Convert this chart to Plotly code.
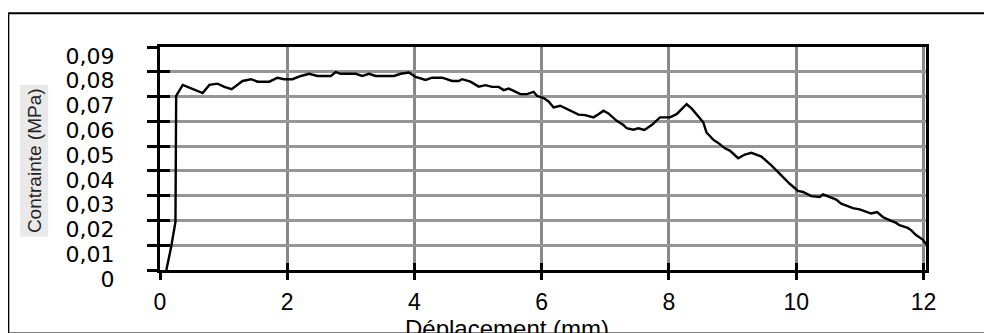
import plotly.graph_objects as go

# Data
deplacement = [0.10, 0.176, 0.243, 0.254, 0.358, 0.671, 0.776, 0.906, 1.011, 1.126,
               1.298, 1.430, 1.534, 1.717, 1.847, 1.952, 2.082, 2.214, 2.344, 2.475,
               2.685, 2.763, 2.841, 3.077, 3.180, 3.285, 3.390, 3.677, 3.782, 3.912,
               4.018, 4.174, 4.278, 4.435, 4.592, 4.697, 4.748, 4.880, 5.010, 5.115,
               5.219, 5.324, 5.402, 5.481, 5.559, 5.664, 5.768, 5.873, 5.924, 6.030,
               6.108, 6.186, 6.291, 6.370, 6.473, 6.578, 6.683, 6.813, 6.892, 6.970,
               7.048, 7.179, 7.284, 7.336, 7.441, 7.519, 7.613, 7.728, 7.859, 8.016,
               8.120, 8.277, 8.355, 8.460, 8.539, 8.590, 8.695, 8.774, 8.879, 8.957,
               9.087, 9.192, 9.296, 9.453, 9.610, 9.766, 9.898, 10.028, 10.107, 10.237,
               10.369, 10.421, 10.499, 10.629, 10.707, 10.812, 10.891, 10.996, 11.099, 11.178,
               11.272, 11.361, 11.466, 11.570, 11.623, 11.753, 11.805, 11.883, 11.988, 12.056]
contrainte = [0.0, 0.0094, 0.0194, 0.0703, 0.0747, 0.0714, 0.0747, 0.0752, 0.0739, 0.0730,
              0.0763, 0.0770, 0.0760, 0.0760, 0.0776, 0.0770, 0.0770, 0.0783, 0.0792, 0.0783,
              0.0783, 0.0799, 0.0792, 0.0792, 0.0783, 0.0792, 0.0783, 0.0783, 0.0792, 0.0797,
              0.0779, 0.0767, 0.0776, 0.0776, 0.0763, 0.0763, 0.0770, 0.0760, 0.0740, 0.0746,
              0.0739, 0.0739, 0.0726, 0.0732, 0.0723, 0.0710, 0.0710, 0.0719, 0.0703, 0.0694,
              0.0680, 0.0656, 0.0663, 0.0653, 0.0643, 0.0627, 0.0625, 0.0616, 0.0629, 0.0643,
              0.0632, 0.0602, 0.0585, 0.0572, 0.0566, 0.0572, 0.0565, 0.0585, 0.0616, 0.0616,
              0.0629, 0.0669, 0.0652, 0.0620, 0.0596, 0.0555, 0.0526, 0.0513, 0.0491, 0.0482,
              0.0451, 0.0466, 0.0473, 0.0458, 0.0422, 0.0382, 0.0348, 0.0319, 0.0315, 0.0298,
              0.0295, 0.0305, 0.0297, 0.0284, 0.0268, 0.0258, 0.0250, 0.0245, 0.0234, 0.0228,
              0.0234, 0.0214, 0.0201, 0.0190, 0.0181, 0.0170, 0.0161, 0.0141, 0.0123, 0.0100]

x_ticks = [0, 2, 4, 6, 8, 10, 12]
x_tick_labels = ["0", "2", "4", "6", "8", "10", "12"]
y_ticks = [0, 0.01, 0.02, 0.03, 0.04, 0.05, 0.06, 0.07, 0.08, 0.09]
y_tick_labels = ["0", "0,01", "0,02", "0,03", "0,04", "0,05", "0,06", "0,07", "0,08", "0,09"]

x_title = "Déplacement (mm)"
y_title = "Contrainte (MPa)"

XR = [0, 12.04]
YR = [0, 0.09]

fig = go.Figure()
fig.add_trace(go.Scatter(x=deplacement, y=contrainte, mode="lines",
                         line=dict(color="black", width=2.4), showlegend=False,
                         hoverinfo="skip"))
# empty trace to create the overlay axes (inside ticks)
fig.add_trace(go.Scatter(x=[None], y=[None], xaxis="x2", yaxis="y2",
                         showlegend=False, hoverinfo="skip"))

fig.update_layout(
    width=992, height=333,
    margin=dict(l=152, r=74, t=39, b=71, autoexpand=False),
    paper_bgcolor="white", plot_bgcolor="white",
    xaxis=dict(range=XR, tickvals=x_ticks, ticktext=x_tick_labels, automargin=False,
               showline=True, linecolor="black", linewidth=3, mirror=True,
               ticks="outside", ticklen=7, tickwidth=3, tickcolor="black",
               showgrid=True, gridcolor="#888888", gridwidth=3,
               zeroline=False, ticklabelstandoff=2,
               tickfont=dict(family="Liberation Sans, Arial", size=23, color="black")),
    yaxis=dict(range=YR, tickvals=y_ticks, ticktext=y_tick_labels, automargin=False,
               showline=True, linecolor="black", linewidth=3, mirror=True,
               ticks="outside", ticklen=10, tickwidth=3, tickcolor="black",
               showgrid=True, gridcolor="#969696", gridwidth=3,
               zeroline=False, ticklabelstandoff=28, ticklabelshift=9,
               tickfont=dict(family="DejaVu Sans", size=22, color="black")),
    xaxis2=dict(range=XR, overlaying="x", tickvals=x_ticks, showticklabels=False,
                automargin=False,
                ticks="inside", ticklen=7, tickwidth=3, tickcolor="black",
                showgrid=False, zeroline=False, showline=False),
    yaxis2=dict(range=YR, overlaying="y", tickvals=y_ticks, showticklabels=False,
                automargin=False,
                ticks="inside", ticklen=10, tickwidth=3, tickcolor="black",
                showgrid=False, zeroline=False, showline=False),
    annotations=[
        dict(text=x_title, xref="paper", yref="paper", x=0.453, y=-0.262,
             xanchor="center", yanchor="middle", showarrow=False,
             font=dict(family="Liberation Sans, Arial", size=24, color="black")),
        dict(text=y_title, xref="paper", yref="paper", x=-0.164, y=0.49,
             xanchor="center", yanchor="middle", showarrow=False, textangle=-90,
             bgcolor="#e9e9e9", borderpad=3,
             font=dict(family="Liberation Sans, Arial", size=19, color="#222222")),
    ],
    shapes=[
        dict(type="rect", xref="paper", yref="paper", x0=-0.198, x1=1.095,
             y0=-0.285, y1=1.151, line=dict(color="black", width=2), layer="below"),
    ],
)

fig.write_html("out.html")
